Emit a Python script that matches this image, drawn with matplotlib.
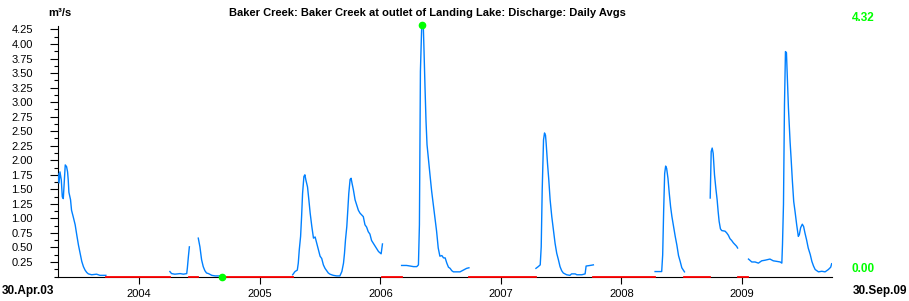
import matplotlib
matplotlib.use("Agg")
import matplotlib.pyplot as plt
import matplotlib.dates as mdates
from matplotlib.ticker import MultipleLocator, FixedLocator
import numpy as np
import pandas as pd

plt.rcParams['font.family'] = ['Liberation Sans', 'DejaVu Sans']

# Daily discharge, m3/s (one list pair per continuous record)
dates_2003 = ['2003-04-30', '2003-05-03', '2003-05-06', '2003-05-10', '2003-05-13', '2003-05-16',
              '2003-05-19', '2003-05-22', '2003-05-26', '2003-05-29', '2003-05-31', '2003-06-02',
              '2003-06-07', '2003-06-10', '2003-06-15', '2003-06-21', '2003-06-26', '2003-07-01',
              '2003-07-06', '2003-07-11', '2003-07-16', '2003-07-21', '2003-07-26', '2003-07-31',
              '2003-08-10', '2003-08-25', '2003-09-04', '2003-09-22']
flow_2003 = [1.77, 1.61, 1.80, 1.66, 1.37, 1.34,
             1.63, 1.92, 1.89, 1.80, 1.66, 1.45,
             1.32, 1.14, 1.03, 0.89, 0.71, 0.54,
             0.40, 0.26, 0.17, 0.11, 0.07, 0.045,
             0.03, 0.04, 0.02, 0.02]

dates_2004a = ['2004-04-03', '2004-04-08', '2004-04-18', '2004-05-04', '2004-05-14', '2004-05-24',
               '2004-05-26', '2004-05-29', '2004-06-01']
flow_2004a = [0.085, 0.05, 0.04, 0.05, 0.04, 0.05,
              0.15, 0.34, 0.51]

dates_2004b = ['2004-06-28', '2004-07-03', '2004-07-08', '2004-07-13', '2004-07-18', '2004-07-23',
               '2004-07-29', '2004-08-08', '2004-08-18', '2004-09-02', '2004-09-09']
flow_2004b = [0.66, 0.51, 0.29, 0.17, 0.10, 0.06,
              0.05, 0.02, 0.01, 0.01, 0.00]

dates_2005 = ['2005-04-10', '2005-04-17', '2005-04-24', '2005-04-27', '2005-04-30', '2005-05-04',
              '2005-05-07', '2005-05-10', '2005-05-14', '2005-05-17', '2005-05-20', '2005-05-25',
              '2005-05-29', '2005-06-02', '2005-06-07', '2005-06-12', '2005-06-17', '2005-06-22',
              '2005-06-27', '2005-07-02', '2005-07-07', '2005-07-12', '2005-07-17', '2005-07-22',
              '2005-07-27', '2005-08-01', '2005-08-11', '2005-08-21', '2005-08-31', '2005-09-06',
              '2005-09-11', '2005-09-14', '2005-09-17', '2005-09-21', '2005-09-24', '2005-09-27',
              '2005-10-01', '2005-10-04', '2005-10-07', '2005-10-11', '2005-10-16', '2005-10-21',
              '2005-10-26', '2005-10-31', '2005-11-05', '2005-11-10', '2005-11-15', '2005-11-20',
              '2005-11-25', '2005-11-30', '2005-12-05', '2005-12-16', '2005-12-26', '2006-01-03',
              '2006-01-07']
flow_2005 = [0.03, 0.085, 0.11, 0.23, 0.46, 0.69,
             1.03, 1.43, 1.72, 1.75, 1.66, 1.54,
             1.32, 1.09, 0.86, 0.66, 0.68, 0.57,
             0.46, 0.35, 0.31, 0.20, 0.14, 0.10,
             0.06, 0.04, 0.02, 0.01, 0.01, 0.085,
             0.23, 0.40, 0.63, 0.86, 1.14, 1.43,
             1.67, 1.69, 1.60, 1.49, 1.32, 1.23,
             1.14, 1.09, 1.06, 1.03, 0.89, 0.85,
             0.77, 0.73, 0.62, 0.52, 0.43, 0.39,
             0.56]

dates_2006 = ['2006-03-06', '2006-03-21', '2006-04-01', '2006-04-11', '2006-04-21', '2006-04-26',
              '2006-04-29', '2006-05-02', '2006-05-06', '2006-05-11', '2006-05-13', '2006-05-16',
              '2006-05-19', '2006-05-22', '2006-05-26', '2006-05-31', '2006-06-05', '2006-06-10',
              '2006-06-15', '2006-06-20', '2006-06-25', '2006-06-30', '2006-07-06', '2006-07-11',
              '2006-07-16', '2006-07-21', '2006-07-26', '2006-07-31', '2006-08-05', '2006-08-10',
              '2006-08-20', '2006-08-30', '2006-09-09', '2006-09-19', '2006-09-26']
flow_2006 = [0.19, 0.19, 0.18, 0.17, 0.17, 0.20,
             0.89, 3.53, 4.32, 4.27, 3.87, 3.24,
             2.67, 2.27, 2.04, 1.75, 1.47, 1.24,
             1.01, 0.78, 0.49, 0.35, 0.36, 0.32,
             0.32, 0.23, 0.16, 0.14, 0.10, 0.08,
             0.08, 0.08, 0.11, 0.14, 0.15]

dates_2007 = ['2007-04-17', '2007-04-24', '2007-04-30', '2007-05-03', '2007-05-06', '2007-05-10',
              '2007-05-13', '2007-05-16', '2007-05-18', '2007-05-22', '2007-05-26', '2007-05-30',
              '2007-06-04', '2007-06-09', '2007-06-14', '2007-06-19', '2007-06-24', '2007-06-29',
              '2007-07-04', '2007-07-09', '2007-07-19', '2007-07-29', '2007-08-03', '2007-08-14',
              '2007-08-19', '2007-09-03', '2007-09-13', '2007-09-16', '2007-09-28', '2007-10-08']
flow_2007 = [0.14, 0.17, 0.20, 0.51, 1.49, 2.35,
             2.47, 2.43, 2.29, 1.95, 1.66, 1.32,
             1.03, 0.80, 0.57, 0.40, 0.29, 0.17,
             0.10, 0.06, 0.03, 0.02, 0.045, 0.045,
             0.03, 0.03, 0.045, 0.18, 0.19, 0.20]

dates_2008a = ['2008-04-12', '2008-05-02', '2008-05-05', '2008-05-08', '2008-05-11', '2008-05-14',
               '2008-05-17', '2008-05-21', '2008-05-25', '2008-05-29', '2008-06-02', '2008-06-07',
               '2008-06-12', '2008-06-17', '2008-06-22', '2008-06-27', '2008-07-02', '2008-07-10']
flow_2008a = [0.085, 0.085, 0.37, 1.14, 1.77, 1.90,
              1.86, 1.69, 1.43, 1.20, 1.03, 0.86,
              0.69, 0.54, 0.36, 0.26, 0.15, 0.08]

dates_2008b = ['2008-09-26', '2008-09-29', '2008-10-02', '2008-10-05', '2008-10-09', '2008-10-13',
               '2008-10-17', '2008-10-20', '2008-10-23', '2008-10-27', '2008-10-31', '2008-11-10',
               '2008-11-15', '2008-11-20', '2008-11-25', '2008-11-30', '2008-12-05', '2008-12-10',
               '2008-12-15', '2008-12-18']
flow_2008b = [1.35, 2.15, 2.21, 2.12, 1.75, 1.52,
              1.32, 1.12, 0.95, 0.82, 0.79, 0.78,
              0.75, 0.71, 0.65, 0.62, 0.58, 0.55,
              0.52, 0.49]

dates_2009 = ['2009-01-20', '2009-01-30', '2009-02-09', '2009-02-19', '2009-03-01', '2009-03-11',
              '2009-03-26', '2009-04-05', '2009-04-16', '2009-04-26', '2009-05-01', '2009-05-03',
              '2009-05-06', '2009-05-09', '2009-05-12', '2009-05-15', '2009-05-17', '2009-05-21',
              '2009-05-26', '2009-05-29', '2009-06-02', '2009-06-06', '2009-06-10', '2009-06-15',
              '2009-06-20', '2009-06-23', '2009-06-27', '2009-07-02', '2009-07-06', '2009-07-10',
              '2009-07-15', '2009-07-20', '2009-07-26', '2009-07-31', '2009-08-05', '2009-08-10',
              '2009-08-20', '2009-08-30', '2009-09-09', '2009-09-19', '2009-09-26', '2009-09-29']
flow_2009 = [0.30, 0.25, 0.25, 0.23, 0.27, 0.28,
             0.30, 0.27, 0.26, 0.25, 0.23, 0.55,
             1.24, 2.95, 3.87, 3.85, 3.53, 2.90,
             2.32, 2.04, 1.64, 1.29, 1.12, 0.89,
             0.69, 0.72, 0.84, 0.90, 0.86, 0.75,
             0.63, 0.49, 0.38, 0.26, 0.18, 0.12,
             0.08, 0.09, 0.08, 0.12, 0.16, 0.22]

period_start = '2003-04-30'
period_end = '2009-09-30'
year_ticks = ['2004', '2005', '2006', '2007', '2008', '2009']

segments = [(dates_2003, flow_2003), (dates_2004a, flow_2004a), (dates_2004b, flow_2004b),
            (dates_2005, flow_2005), (dates_2006, flow_2006), (dates_2007, flow_2007),
            (dates_2008a, flow_2008a), (dates_2008b, flow_2008b), (dates_2009, flow_2009)]
segments = [(pd.to_datetime(d), np.array(q)) for d, q in segments]

blue = '#0080ff'
red = '#ff0000'
green = '#00ff00'

fig = plt.figure(figsize=(9.09, 3.01), dpi=100)
ax = fig.add_axes([58 / 909, 1 - 276.5 / 301, 774 / 909, 250.5 / 301])

for d, q in segments:
    ax.plot(d, q, color=blue, lw=1.0, zorder=3)

# gaps in the record -> red along zero
for (d0, _), (d1, _) in zip(segments[:-1], segments[1:]):
    ax.plot([d0[-1], d1[0]], [0, 0], color=red, lw=1.3, zorder=4, clip_on=False)

# max / min markers
all_d = np.concatenate([d.values for d, _ in segments])
all_q = np.concatenate([q for _, q in segments])
imax, imin = np.argmax(all_q), np.argmin(all_q)
ax.plot([all_d[imax], all_d[imin]], [all_q[imax], all_q[imin]], 'o', color=green,
        ms=4.5, zorder=5, clip_on=False)

ax.set_xlim(pd.Timestamp(period_start), pd.Timestamp(period_end))
ax.set_ylim(0, 4.31)

for s in ['top', 'right']:
    ax.spines[s].set_visible(False)
for s in ['left', 'bottom']:
    ax.spines[s].set_linewidth(0.8)

ax.yaxis.set_major_locator(FixedLocator(np.arange(0.25, 4.26, 0.25)))
ax.yaxis.set_minor_locator(MultipleLocator(0.125))
ax.yaxis.set_major_formatter(plt.FormatStrFormatter('%.2f'))
ax.tick_params(axis='y', which='major', length=6, width=0.8, pad=12, labelsize=8)
ax.tick_params(axis='y', which='minor', length=3, width=0.8)

ax.set_xticks(pd.to_datetime(year_ticks))
ax.xaxis.set_major_formatter(mdates.DateFormatter('%Y'))
ax.tick_params(axis='x', which='major', length=5, width=0.8, pad=4, labelsize=8)

fig.text(427 / 909, 1 - 13.5 / 301, 'Baker Creek: Baker Creek at outlet of Landing Lake: Discharge: Daily Avgs',
         ha='center', va='center', fontsize=8, fontweight='bold')
fig.text(48 / 909, 1 - 13.5 / 301, 'm³/s', ha='left', va='center', fontsize=8, fontweight='bold')

fig.text(852 / 909, 1 - 18 / 301, '%.2f' % all_q[imax], ha='left', va='center',
         fontsize=8.5, fontweight='bold', color=green)
fig.text(852 / 909, 1 - 269 / 301, '%.2f' % all_q[imin], ha='left', va='center',
         fontsize=8.5, fontweight='bold', color=green)

start_lbl = pd.Timestamp(period_start).strftime('%d.%b.%y')
end_lbl = pd.Timestamp(period_end).strftime('%d.%b.%y')
fig.text(2 / 909, 1 - 291 / 301, start_lbl, ha='left', va='center', fontsize=8.5, fontweight='bold')
fig.text(907 / 909, 1 - 291 / 301, end_lbl, ha='right', va='center', fontsize=8.5, fontweight='bold')

fig.savefig('out.png', dpi=100)
